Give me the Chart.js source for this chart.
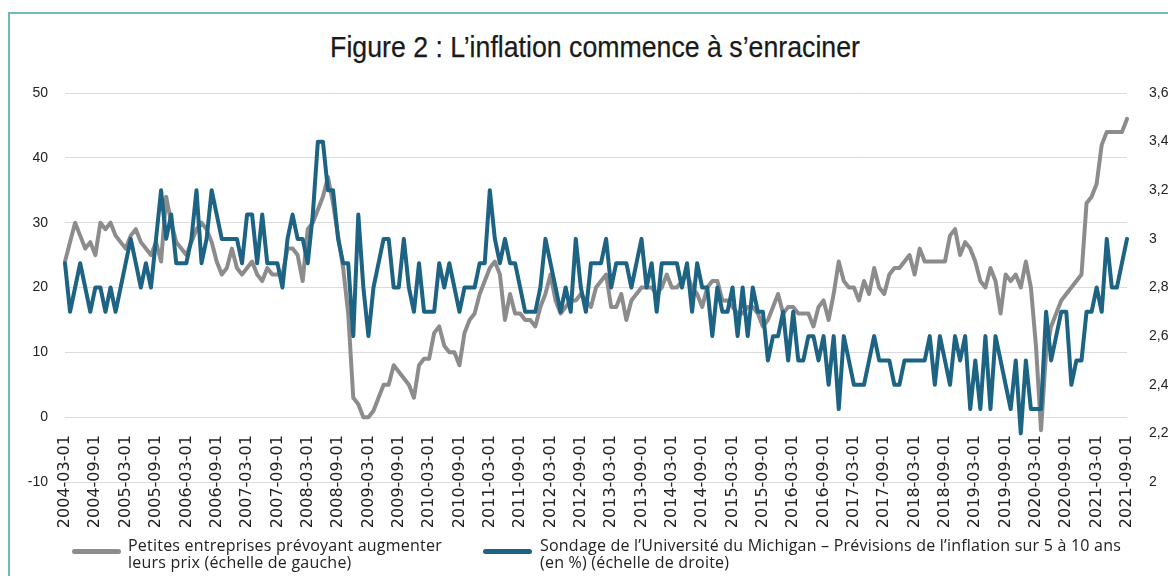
<!DOCTYPE html>
<html lang="fr">
<head>
<meta charset="utf-8">
<title>Figure 2</title>
<script src="https://cdn.jsdelivr.net/npm/chart.js@4.4.1/dist/chart.umd.min.js"></script>
<style>
  html, body { margin: 0; padding: 0; background: #fff; overflow: hidden; }
  #page { position: relative; width: 1168px; height: 576px; }
  #cadre { position: absolute; left: 8px; top: 12px; width: 1170px; height: 580px;
           border-top: 2px solid #6bbdb7; border-left: 2px solid #6bbdb7; }
  #titre { position: absolute; left: 0; width: 1190px; top: 30px; text-align: center;
           font-family: "Liberation Sans", sans-serif; font-size: 30px;
           color: #1a1a1a; transform: scaleX(0.89); -webkit-text-stroke: 0.25px #1a1a1a; }
  #graf { position: absolute; left: 0; top: 0; }
  .leg { position: absolute; top: 537px; font-family: "Open Sans", sans-serif; font-size: 16px;
         letter-spacing: 0.22px; line-height: 17px; color: #222; }
  .swatch { position: absolute; top: 549px; width: 49px; height: 5px; border-radius: 3px; }
</style>
</head>
<body>
<div id="page">
  <div id="cadre"></div>
  <div id="titre">Figure 2 : L’inflation commence à s’enraciner</div>
  <canvas id="graf" width="1168" height="540"></canvas>
  <div class="swatch" style="left:72px;background:#8c8c8c"></div>
  <div class="leg" style="left:128px">Petites entreprises prévoyant augmenter<br>leurs prix (échelle de gauche)</div>
  <div class="swatch" style="left:483px;background:#1c6384"></div>
  <div class="leg" style="left:540px">Sondage de l’Université du Michigan – Prévisions de l’inflation sur 5 à 10 ans<br>(en %) (échelle de droite)</div>
</div>

<script>
// mesi da 2004-03 a 2021-09
var mesi = [];
for (var a = 2004; a <= 2021; a++) {
    for (var m = 1; m <= 12; m++) {
        if (a === 2004 && m < 3) continue;
        if (a === 2021 && m > 9) continue;
        mesi.push(a + '-' + (m < 10 ? '0' + m : m) + '-01');
    }
}

// petites entreprises (échelle de gauche)
var petitesEntreprises = [
    24, 27, 30, 28, 26, 27, 25, 30, 29, 30,
    28, 27, 26, 28, 29, 27, 26, 25, 27, 24,
    34, 30, 27, 26, 25, 27, 29, 30, 29, 27,
    24, 22, 23, 26, 23, 22, 23, 24, 22, 21,
    23, 22, 22, 22, 26, 26, 25, 21, 29, 30,
    32, 34, 37, 33, 28, 23, 16, 3, 2, 0,
    0, 1, 3, 5, 5, 8, 7, 6, 5, 3,
    8, 9, 9, 13, 14, 11, 10, 10, 8, 13,
    15, 16, 19, 21, 23, 24, 22, 15, 19, 16,
    16, 15, 15, 14, 17, 19, 22, 18, 16, 17,
    18, 18, 19, 18, 17, 20, 21, 22, 17, 17,
    19, 15, 18, 19, 20, 20, 20, 19, 20, 22,
    20, 20, 21, 22, 20, 19, 17, 20, 21, 21,
    18, 18, 17, 16, 16, 17, 17, 16, 14, 15,
    17, 19, 16, 17, 17, 16, 16, 16, 14, 17,
    18, 15, 19, 24, 21, 20, 20, 18, 21, 19,
    23, 20, 19, 22, 23, 23, 24, 25, 22, 26,
    24, 24, 24, 24, 24, 28, 29, 25, 27, 26,
    24, 21, 20, 23, 21, 16, 22, 21, 22, 20,
    24, 20, 11, -2, 10, 14, 16, 18, 19, 20,
    21, 22, 33, 34, 36, 42, 44, 44, 44, 44, 46
];

// sondage Michigan 5-10 ans (échelle de droite)
var michigan = [
    2.9, 2.7, 2.8, 2.9, 2.8, 2.7, 2.8, 2.8, 2.7, 2.8,
    2.7, 2.8, 2.9, 3.0, 2.9, 2.8, 2.9, 2.8, 3.0, 3.2,
    3.0, 3.1, 2.9, 2.9, 2.9, 3.0, 3.2, 2.9, 3.0, 3.2,
    3.1, 3.0, 3.0, 3.0, 3.0, 2.9, 3.1, 3.1, 2.9, 3.1,
    2.9, 2.9, 2.9, 2.8, 3.0, 3.1, 3.0, 3.0, 2.9, 3.1,
    3.4, 3.4, 3.2, 3.2, 3.0, 2.9, 2.9, 2.6, 3.1, 2.8,
    2.6, 2.8, 2.9, 3.0, 3.0, 2.8, 2.8, 3.0, 2.8, 2.7,
    2.9, 2.7, 2.7, 2.7, 2.9, 2.8, 2.9, 2.8, 2.7, 2.8,
    2.8, 2.8, 2.9, 2.9, 3.2, 3.0, 2.9, 3.0, 2.9, 2.9,
    2.8, 2.7, 2.7, 2.7, 2.8, 3.0, 2.9, 2.8, 2.7, 2.8,
    2.7, 3.0, 2.8, 2.7, 2.9, 2.9, 2.9, 3.0, 2.8, 2.9,
    2.9, 2.9, 2.8, 2.9, 3.0, 2.8, 2.9, 2.7, 2.9, 2.9,
    2.9, 2.9, 2.8, 2.9, 2.7, 2.9, 2.8, 2.8, 2.6, 2.8,
    2.7, 2.7, 2.8, 2.6, 2.8, 2.6, 2.8, 2.7, 2.7, 2.5,
    2.6, 2.6, 2.7, 2.5, 2.7, 2.5, 2.5, 2.6, 2.6, 2.5,
    2.6, 2.4, 2.6, 2.3, 2.6, 2.5, 2.4, 2.4, 2.4, 2.5,
    2.6, 2.5, 2.5, 2.5, 2.4, 2.4, 2.5, 2.5, 2.5, 2.5,
    2.5, 2.6, 2.4, 2.6, 2.5, 2.4, 2.6, 2.5, 2.6, 2.3,
    2.5, 2.3, 2.6, 2.3, 2.6, 2.5, 2.4, 2.3, 2.5, 2.2,
    2.5, 2.3, 2.3, 2.3, 2.7, 2.5, 2.6, 2.7, 2.7, 2.4,
    2.5, 2.5, 2.7, 2.7, 2.8, 2.7, 3.0, 2.8, 2.8, 2.9, 3.0
];

var fontTick = { family: '"Liberation Sans", sans-serif', size: 14 };

var ctx = document.getElementById('graf').getContext('2d');
var chart = new Chart(ctx, {
    type: 'line',
    data: {
        labels: mesi,
        datasets: [{
            label: 'Petites entreprises prévoyant augmenter leurs prix (échelle de gauche)',
            data: petitesEntreprises,
            borderColor: '#8c8c8c',
            borderWidth: 4,
            yAxisID: 'y',
            order: 2
        }, {
            label: 'Sondage de l’Université du Michigan – Prévisions de l’inflation sur 5 à 10 ans (en %) (échelle de droite)',
            data: michigan,
            borderColor: '#1c6384',
            borderWidth: 4,
            yAxisID: 'y1',
            order: 1
        }]
    },
    options: {
        responsive: false,
        animation: false,
        layout: { padding: { top: 93, bottom: 58, left: 0, right: 0 } },
        elements: {
            point: { radius: 0 },
            line: { tension: 0, borderJoinStyle: 'round', borderCapStyle: 'round' }
        },
        plugins: {
            legend: { display: false },
            tooltip: { enabled: false }
        },
        scales: {
            x: {
                position: { y: 0 },   // l'asse incrocia lo zero come in Excel
                grid: { display: false },
                border: { display: false },
                ticks: {
                    autoSkip: false,
                    minRotation: 90,
                    maxRotation: 90,
                    padding: 10,
                    color: '#222',
                    font: { family: '"DejaVu Sans", sans-serif', size: 16 },
                    callback: function (v, i) { return i % 6 === 0 ? mesi[i] : ''; }
                }
            },
            y: {
                position: 'left',
                min: -10,
                max: 50,
                afterFit: function (s) { s.width = 65; },
                grid: { color: '#dcdcdc', lineWidth: 1, drawTicks: false },
                border: { display: false },
                ticks: { stepSize: 10, padding: 17, color: '#222', font: fontTick }
            },
            y1: {
                position: 'right',
                min: 2,
                max: 3.6,
                afterFit: function (s) { s.width = 41; },
                grid: { display: false },
                border: { display: false },
                ticks: {
                    stepSize: 0.2,
                    padding: 14,
                    color: '#222',
                    font: fontTick,
                    callback: function (v) { return String(Math.round(v * 10) / 10).replace('.', ','); }
                }
            }
        }
    }
});
</script>
</body>
</html>
